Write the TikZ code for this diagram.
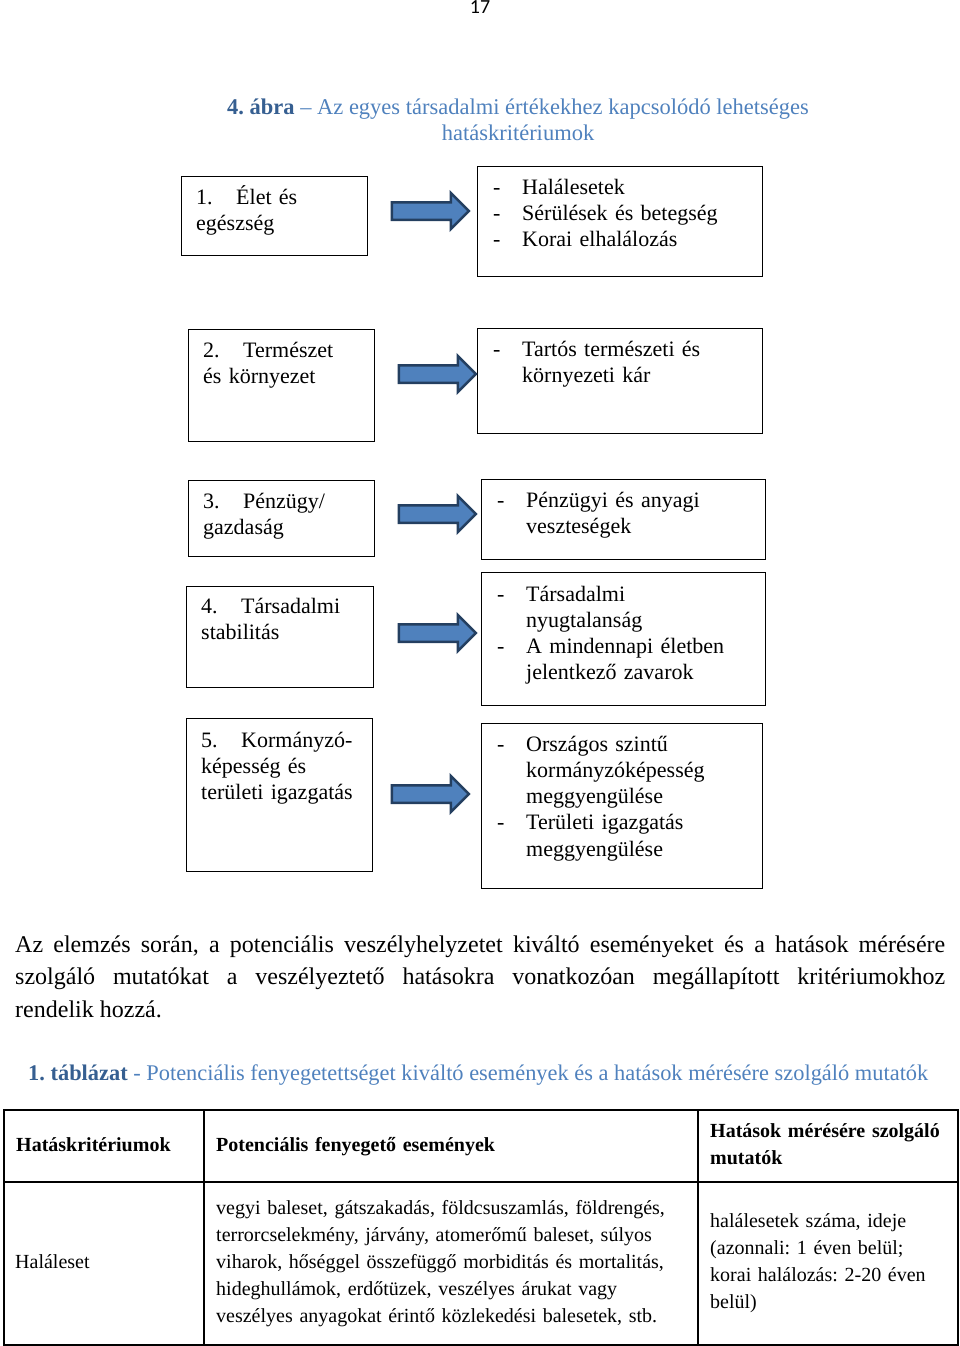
\documentclass[tikz,border=0pt]{standalone}
\usepackage{fontspec}
\setmainfont{Liberation Serif}
\newfontfamily\pagenumfont{Carlito}
\definecolor{captiondark}{RGB}{54,95,145}
\definecolor{captionlight}{RGB}{79,129,189}
\definecolor{arrowfill}{RGB}{79,129,189}
\definecolor{arrowline}{RGB}{36,63,96}
\usetikzlibrary{positioning}
\usetikzlibrary{shapes.arrows}

\newcommand{\dashitem}{\makebox[29pt][l]{-}}
\newcommand{\dashind}{\hspace*{29pt}}
\newcommand{\numitem}[1]{\makebox[40pt][l]{#1}}

\tikzset{
  critbox/.style={draw, line width=1.3pt, anchor=north west, inner sep=0pt},
  boxtext/.style={anchor=base west, inner sep=0pt, align=left, text width=300pt,
    font=\fontsize{22}{26.3}\selectfont},
  blockarrow/.style={single arrow, draw=arrowline, fill=arrowfill, line width=2.5pt,
    inner sep=0pt, text height=15pt, minimum height=77pt,
    single arrow head extend=9.25pt, single arrow tip angle=90},
  tabtext/.style={anchor=base west, inner sep=0pt, align=left, text width=480pt,
    font=\fontsize{20}{27}\selectfont},
  tabline/.style={line width=1.3pt}
}

\begin{document}
\frenchspacing
\begin{tikzpicture}[x=1pt, y=-1pt]
  \useasboundingbox (0,0) rectangle (960,1346);

  % page number and figure title
  \node [anchor=base, inner sep=0pt, font=\pagenumfont\fontsize{20}{24}\selectfont] (pagenum) at (480,14) {17};
  \node [anchor=base, inner sep=0pt, align=center, text=captionlight,
    font=\fontsize{22.5}{26}\selectfont] (title) at (518,140)
    {\textbf{\color{captiondark}4. ábra} -- Az egyes társadalmi értékekhez kapcsolódó lehetséges\\hatáskritériumok};

  % left column: values
  \node [critbox, minimum width=186pt, minimum height=79pt] (val1) at (181,176) {};
  \node [critbox, minimum width=186pt, minimum height=112pt] (val2) at (188,329) {};
  \node [critbox, minimum width=186pt, minimum height=76pt] (val3) at (188,480) {};
  \node [critbox, minimum width=187pt, minimum height=101pt] (val4) at (186,586) {};
  \node [critbox, minimum width=186pt, minimum height=153pt] (val5) at (186,718) {};

  \node [boxtext] (val1txt) at (196,204) {\numitem{1.}Élet és\\egészség};
  \node [boxtext] (val2txt) at (203,357) {\numitem{2.}Természet\\és környezet};
  \node [boxtext] (val3txt) at (203,508) {\numitem{3.}Pénzügy/\\gazdaság};
  \node [boxtext] (val4txt) at (201,613) {\numitem{4.}Társadalmi\\stabilitás};
  \node [boxtext] (val5txt) at (201,747) {\numitem{5.}Kormányzó-\\képesség és\\területi igazgatás};

  % right column: impact criteria
  \node [critbox, minimum width=285pt, minimum height=110pt] (crit1) at (477,166) {};
  \node [critbox, minimum width=285pt, minimum height=105pt] (crit2) at (477,328) {};
  \node [critbox, minimum width=284pt, minimum height=80pt] (crit3) at (481,479) {};
  \node [critbox, minimum width=284pt, minimum height=133pt] (crit4) at (481,572) {};
  \node [critbox, minimum width=281pt, minimum height=165pt] (crit5) at (481,723) {};

  \node [boxtext] (crit1txt) at (493,194)
    {\dashitem Halálesetek\\\dashitem Sérülések és betegség\\\dashitem Korai elhalálozás};
  \node [boxtext] (crit2txt) at (493,356)
    {\dashitem Tartós természeti és\\\dashind környezeti kár};
  \node [boxtext] (crit3txt) at (497,507)
    {\dashitem Pénzügyi és anyagi\\\dashind veszteségek};
  \node [boxtext] (crit4txt) at (497,601)
    {\dashitem Társadalmi\\\dashind nyugtalanság\\\dashitem A mindennapi életben\\\dashind jelentkező zavarok};
  \node [boxtext] (crit5txt) at (497,751)
    {\dashitem Országos szintű\\\dashind kormányzóképesség\\\dashind meggyengülése\\\dashitem Területi igazgatás\\\dashind meggyengülése};

  % block arrows
  \node [blockarrow] (arr1) at (426,211) {};
  \node [blockarrow] (arr2) at (433,374) {};
  \node [blockarrow] (arr3) at (433,514) {};
  \node [blockarrow] (arr4) at (433,633) {};
  \node [blockarrow] (arr5) at (426,794) {};

  % body text
  \node [anchor=base west, inner sep=0pt, text width=930pt, align=justify,
    font=\fontsize{24}{32.5}\selectfont] (para) at (15,952)
    {Az elemzés során, a potenciális veszélyhelyzetet kiváltó eseményeket és a hatások mérésére\linebreak
     szolgáló mutatókat a veszélyeztető hatásokra vonatkozóan megállapított kritériumokhoz\linebreak
     rendelik hozzá.};

  % table caption
  \node [anchor=base west, inner sep=0pt, text=captionlight,
    font=\fontsize{22.4}{26}\selectfont] (tabcap) at (28,1080)
    {\textbf{\color{captiondark}1. táblázat} - Potenciális fenyegetettséget kiváltó események és a hatások mérésére szolgáló mutatók};

  % table
  \draw [tabline] (4,1110) rectangle (958,1345);
  \draw [tabline] (4,1182) -- (958,1182);
  \draw [tabline] (204,1110) -- (204,1345);
  \draw [tabline] (698,1110) -- (698,1345);

  \node [tabtext, font=\bfseries\fontsize{20}{27}\selectfont] (head1) at (16,1151) {Hatáskritériumok};
  \node [tabtext, font=\bfseries\fontsize{20}{27}\selectfont] (head2) at (216,1151) {Potenciális fenyegető események};
  \node [tabtext, font=\bfseries\fontsize{20}{27}\selectfont] (head3) at (710,1137) {Hatások mérésére szolgáló\\mutatók};

  \node [tabtext] (cell1) at (15,1268) {Haláleset};
  \node [tabtext] (cell2) at (216,1214)
    {vegyi baleset, gátszakadás, földcsuszamlás, földrengés,\\
     terrorcselekmény, járvány, atomerőmű baleset, súlyos\\
     viharok, hőséggel összefüggő morbiditás és mortalitás,\\
     hideghullámok, erdőtüzek, veszélyes árukat vagy\\
     veszélyes anyagokat érintő közlekedési balesetek, stb.};
  \node [tabtext] (cell3) at (710,1227)
    {halálesetek száma, ideje\\(azonnali: 1 éven belül;\\korai halálozás: 2-20 éven\\belül)};
\end{tikzpicture}
\end{document}
